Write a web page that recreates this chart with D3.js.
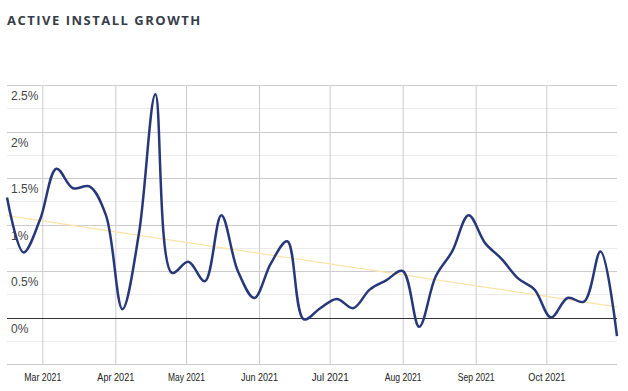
<!DOCTYPE html>
<html>
<head>
<meta charset="utf-8">
<script src="https://cdnjs.cloudflare.com/ajax/libs/d3/7.8.5/d3.min.js"></script>
<style>
  body { margin: 0; background: #fff; }
  svg { display: block; }
</style>
</head>
<body>
<svg id="canvas"></svg>
<script>
// weekly active install growth (%)
let weeks = [
  '2021-02-14', '2021-02-21', '2021-02-28', '2021-03-07', '2021-03-14', '2021-03-21', '2021-03-28',
  '2021-04-04', '2021-04-11', '2021-04-18', '2021-04-25', '2021-05-02', '2021-05-09', '2021-05-16',
  '2021-05-23', '2021-05-30', '2021-06-06', '2021-06-13', '2021-06-20', '2021-06-27', '2021-07-04',
  '2021-07-11', '2021-07-18', '2021-07-25', '2021-08-01', '2021-08-08', '2021-08-15', '2021-08-22',
  '2021-08-29', '2021-09-05', '2021-09-12', '2021-09-19', '2021-09-26', '2021-10-03', '2021-10-10',
  '2021-10-17', '2021-10-24', '2021-10-31'
]
let growth = [
  1.29, 0.70, 1.05, 1.60, 1.39, 1.41, 1.10,
  0.09, 0.90, 2.40, 0.48, 0.60, 0.39, 1.10,
  0.50, 0.21, 0.58, 0.82, -0.02, 0.10, 0.20,
  0.10, 0.30, 0.40, 0.50, -0.10, 0.44, 0.71,
  1.10, 0.80, 0.63, 0.42, 0.30, 0.00, 0.21,
  0.17, 0.71, -0.20
]
// trend line at first and last week
let trend = [1.095, 0.115]
let yTicks = [-0.5, -0.25, 0, 0.25, 0.5, 0.75, 1, 1.25, 1.5, 1.75, 2, 2.25, 2.5]
let yLabels = [0, 0.5, 1, 1.5, 2, 2.5]

let width = 628
let height = 391
let plotLeft = 7
let plotRight = 617
let plotTop = 85
let plotBottom = 364

let parse = d3.timeParse('%Y-%m-%d')
let dates = weeks.map(parse)

let canvas = d3.select('#canvas')
  .attr('width', width)
  .attr('height', height)

canvas.append('text')
  .attr('x', 7)
  .attr('y', 25)
  .attr('font-family', 'Open Sans')
  .attr('font-weight', 700)
  .attr('font-size', 13)
  .attr('letter-spacing', 1.5)
  .attr('fill', '#363e48')
  .text('ACTIVE INSTALL GROWTH')

let xScale = d3.scaleTime()
  .domain([dates[0], dates[dates.length - 1]])
  .range([plotLeft, plotRight])

let yScale = d3.scaleLinear()
  .domain([-0.5, 2.5])
  .range([plotBottom, plotTop])

// horizontal gridlines
canvas.append('g')
  .selectAll('line')
  .data(yTicks)
  .enter()
  .append('line')
  .attr('x1', plotLeft)
  .attr('x2', plotRight)
  .attr('y1', (d) => Math.round(yScale(d)) + 0.5)
  .attr('y2', (d) => Math.round(yScale(d)) + 0.5)
  .attr('stroke', (d) => yLabels.includes(d) || d == -0.5 ? '#cccccc' : '#ebebeb')

// x axis with vertical gridlines
let xAxis = d3.axisBottom(xScale)
  .ticks(d3.timeMonth.every(1))
  .tickFormat(d3.timeFormat('%b %Y'))
  .tickSize(-(plotBottom - plotTop))
  .tickPadding(9)

let gx = canvas.append('g')
  .attr('transform', 'translate(0,' + plotBottom + ')')
  .call(xAxis)
gx.select('.domain').remove()
gx.selectAll('.tick line')
  .attr('stroke', '#cccccc')
gx.selectAll('.tick text')
  .attr('font-family', 'Liberation Sans, Arial, sans-serif')
  .attr('font-size', 11)
  .attr('fill', '#222')
  .attr('textLength', 37)
  .attr('lengthAdjust', 'spacingAndGlyphs')

// y labels inside the plot, below their gridline
canvas.append('g')
  .selectAll('text')
  .data(yLabels)
  .enter()
  .append('text')
  .attr('x', 11)
  .attr('y', (d) => yScale(d) + 15)
  .attr('font-family', 'Liberation Sans, Arial, sans-serif')
  .attr('font-size', 12)
  .attr('fill', '#444')
  .text((d) => d3.format('~g')(d) + '%')

// trend line
canvas.append('line')
  .attr('x1', xScale(dates[0]))
  .attr('x2', xScale(dates[dates.length - 1]))
  .attr('y1', yScale(trend[0]))
  .attr('y2', yScale(trend[1]))
  .attr('stroke', '#fde2a8')
  .attr('stroke-width', 1.2)

// zero baseline
canvas.append('line')
  .attr('x1', plotLeft)
  .attr('x2', plotRight)
  .attr('y1', Math.round(yScale(0)) + 0.5)
  .attr('y2', Math.round(yScale(0)) + 0.5)
  .attr('stroke', '#333')

let line = d3.line()
  .x((d, i) => xScale(dates[i]))
  .y((d) => yScale(d))
  .curve(d3.curveCatmullRom.alpha(0.5))

canvas.append('path')
  .datum(growth)
  .attr('d', line)
  .attr('fill', 'none')
  .attr('stroke', '#27387a')
  .attr('stroke-width', 2.5)
</script>
</body>
</html>
